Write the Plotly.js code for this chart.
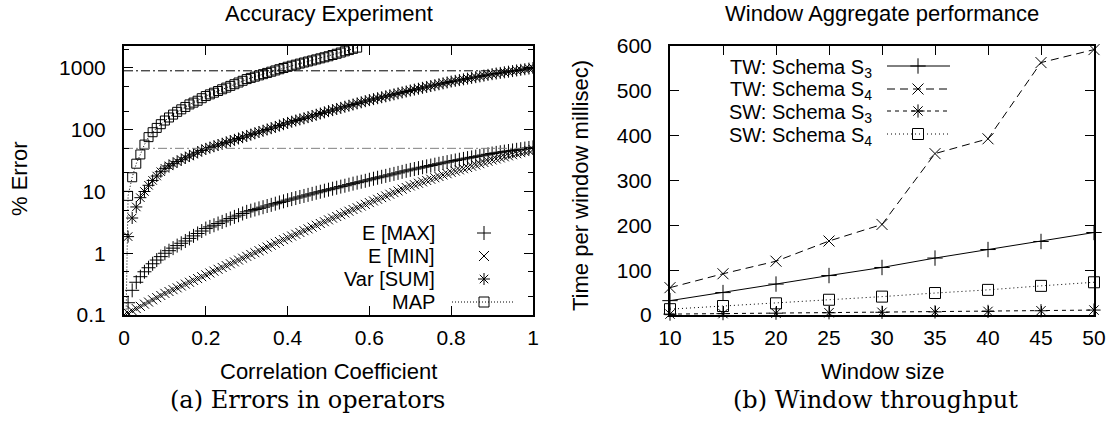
<!DOCTYPE html>
<html><head><meta charset="utf-8">
<script src="https://cdn.plot.ly/plotly-3.0.1.min.js"></script>
<style>html,body{margin:0;padding:0;background:#fff}#chart{width:1110px;height:423px}</style>
</head><body><div id="chart"></div>
<script>
// ---------- data ----------
const corr = [0,0.01,0.02,0.03,0.04,0.05,0.06,0.07,0.08,0.09,0.1,0.11,0.12,0.13,0.14,0.15,0.16,0.17,0.18,0.19,0.2,0.21,0.22,0.23,0.24,0.25,0.26,0.27,0.28,0.29,0.3,0.31,0.32,0.33,0.34,0.35,0.36,0.37,0.38,0.39,0.4,0.41,0.42,0.43,0.44,0.45,0.46,0.47,0.48,0.49,0.5,0.51,0.52,0.53,0.54,0.55,0.56,0.57,0.58,0.59,0.6,0.61,0.62,0.63,0.64,0.65,0.66,0.67,0.68,0.69,0.7,0.71,0.72,0.73,0.74,0.75,0.76,0.77,0.78,0.79,0.8,0.81,0.82,0.83,0.84,0.85,0.86,0.87,0.88,0.89,0.9,0.91,0.92,0.93,0.94,0.95,0.96,0.97,0.98,0.99,1];
const eMax = [0,0.158,0.251,0.339,0.417,0.501,0.582,0.676,0.776,0.881,1.00,1.10,1.21,1.33,1.45,1.58,1.74,1.91,2.09,2.29,2.51,2.67,2.84,3.03,3.22,3.43,3.65,3.88,4.13,4.40,4.68,4.89,5.11,5.33,5.57,5.82,6.08,6.35,6.64,6.93,7.24,7.53,7.83,8.15,8.47,8.81,9.16,9.53,9.91,10.3,10.7,11.1,11.5,12.0,12.4,12.9,13.4,13.9,14.4,14.9,15.5,16.1,16.7,17.3,17.9,18.6,19.3,20.0,20.8,21.6,22.4,23.1,23.9,24.7,25.5,26.3,27.2,28.1,29.0,29.9,30.9,31.8,32.7,33.7,34.7,35.7,36.7,37.8,38.9,40.0,41.2,42.2,43.2,44.2,45.2,46.2,47.3,48.4,49.5,50.7,51.9];
const eMin = [0.100,0.108,0.117,0.127,0.138,0.150,0.162,0.176,0.191,0.207,0.224,0.240,0.257,0.275,0.295,0.316,0.339,0.363,0.389,0.417,0.447,0.479,0.513,0.550,0.589,0.631,0.676,0.724,0.776,0.832,0.891,0.955,1.02,1.10,1.17,1.26,1.35,1.45,1.55,1.66,1.78,1.90,2.03,2.17,2.32,2.48,2.65,2.84,3.03,3.24,3.47,3.70,3.94,4.21,4.49,4.79,5.11,5.45,5.81,6.19,6.61,7.03,7.48,7.96,8.47,9.02,9.59,10.2,10.9,11.6,12.3,12.9,13.6,14.3,15.1,15.8,16.7,17.5,18.5,19.4,20.4,21.4,22.4,23.4,24.5,25.7,26.9,28.2,29.5,30.9,32.4,33.7,35.0,36.4,37.8,39.4,40.9,42.6,44.3,46.0,47.9];
const varSum = [0,1.86,3.72,5.62,7.94,10.0,12.6,15.1,17.8,20.9,23.7,26.0,28.2,30.5,32.7,35.1,37.6,40.3,43.2,46.2,49.0,51.4,54.0,56.6,59.4,62.4,65.5,68.7,72.1,75.7,79.4,83.4,87.5,91.8,96.4,101,106,111,117,123,129,135,141,147,153,160,167,175,183,191,200,208,217,226,236,245,256,267,278,290,302,313,324,336,348,361,374,388,402,416,432,446,461,477,493,510,527,545,564,583,603,619,637,655,673,692,711,731,752,773,794,813,832,851,871,891,912,933,955,977,1000];
const mapErr = [0,8.5,17.0,28.2,39.8,57.5,75.9,91.2,107,123,141,158,176,195,214,234,257,275,295,324,351,374,398,424,452,481,513,546,582,620,661,692,724,759,794,832,871,912,955,1000,1047,1089,1132,1178,1225,1274,1324,1377,1432,1489,1549,1622,1698,1778,1862,1950,2042,2138];
const refLevels = [900, 50];
const errTicks = [0.1, 1, 10, 100, 1000];
const errTickText = ['0.1', '1', '10', '100', '1000'];
const errMinor = [0.2, 0.5, 2, 5, 20, 50, 200, 500, 2000];
const corrTicks = [0, 0.2, 0.4, 0.6, 0.8, 1];
const corrTickText = ['0', '0.2', '0.4', '0.6', '0.8', '1'];

const winSize = [10, 15, 20, 25, 30, 35, 40, 45, 50];
const twS3 = [32, 50, 69, 88, 106, 127, 146, 164, 184];
const twS4 = [61, 92, 120, 165, 202, 360, 393, 563, 592];
const swS3 = [2, 3, 4, 5, 6, 7, 8, 9.5, 11];
const swS4 = [13, 20, 26, 34, 41, 49, 56, 65, 73];

const leftNames = ['E [MAX]', 'E [MIN]', 'Var [SUM]', 'MAP'];
const rightNames = ['TW: Schema S<sub>3</sub>', 'TW: Schema S<sub>4</sub>', 'SW: Schema S<sub>3</sub>', 'SW: Schema S<sub>4</sub>'];

// ---------- layout constants ----------
const W = 1110, H = 423;
const F = 'Liberation Sans, Arial, Helvetica, sans-serif';
const SERIF = 'DejaVu Serif, Liberation Serif, serif';
const FS = 21, FT = 22, FL = 20;
const LB = {x0: 124, x1: 533}, RB = {x0: 670, x1: 1094}, TOP = 46, BOT = 315;
const px = v => v / W, py = v => 1 - v / H;
const floorLog = v => (v > 0 ? v : 1e-3);
const nullZero = v => (v > 0 ? v : null);

const mk = (sym, size) => ({symbol: sym, size: size, color: '#000', line: {width: 1, color: '#000'}});
const symL = ['cross-thin-open', 'x-thin-open', 'asterisk-open', 'square-open'];
const symR = ['cross-thin-open', 'x-thin-open', 'asterisk-open', 'square-open'];
const dashR = ['solid', '8px,5px', '4px,4px', '1px,3px'];

const traces = [];
// left plot
traces.push({x: corr, y: eMax.map(nullZero), mode: 'markers', marker: mk(symL[0], 10), xaxis: 'x', yaxis: 'y', cliponaxis: true});
traces.push({x: corr, y: eMin.map(nullZero), mode: 'markers', marker: mk(symL[1], 9), xaxis: 'x', yaxis: 'y', cliponaxis: true});
traces.push({x: corr, y: varSum.map(nullZero), mode: 'markers', marker: mk(symL[2], 10), xaxis: 'x', yaxis: 'y', cliponaxis: true});
traces.push({x: corr.slice(0, mapErr.length), y: mapErr.map(floorLog), mode: 'lines+markers',
  line: {color: '#000', width: 1, dash: '1px,2px'}, marker: mk(symL[3], 9), xaxis: 'x', yaxis: 'y', cliponaxis: true});
const refColors = ['#000', '#808080'];
refLevels.forEach((lv, i) => traces.push({x: [corr[0], corr[corr.length - 1]], y: [lv, lv], mode: 'lines',
  line: {color: refColors[i], width: 1, dash: '9px,3px,2px,3px'}, xaxis: 'x', yaxis: 'y'}));
// right plot
[twS3, twS4, swS3, swS4].forEach((s, i) => traces.push({x: winSize, y: s, mode: 'lines+markers',
  line: {color: '#000', width: 1, dash: dashR[i]}, marker: mk(symR[i], 11), xaxis: 'x2', yaxis: 'y2', cliponaxis: false}));

// legend keys (overlay pixel axis)
const lRows = [233, 256, 279, 302], lKeyX = 484, lLine = [452, 514], lTextX = 436;
const rRows = [66, 89, 111, 134], rKeyX = 918, rLine = [887, 950], rTextX = 873;
traces.push({x: lLine, y: [lRows[3], lRows[3]], mode: 'lines', line: {color: '#000', width: 1, dash: '1px,2px'}, xaxis: 'x3', yaxis: 'y3'});
lRows.forEach((r, i) => traces.push({x: [lKeyX], y: [r], mode: 'markers', marker: mk(symL[i], 10), xaxis: 'x3', yaxis: 'y3'}));
rRows.forEach((r, i) => {
  traces.push({x: rLine, y: [r, r], mode: 'lines', line: {color: '#000', width: 1, dash: dashR[i]}, xaxis: 'x3', yaxis: 'y3'});
  traces.push({x: [rKeyX], y: [r], mode: 'markers', marker: mk(symR[i], 11), xaxis: 'x3', yaxis: 'y3'});
});
traces.forEach(t => t.showlegend = false);

const axBase = {showline: true, linecolor: '#000', linewidth: 2, mirror: 'allticks', ticks: 'inside', ticklen: 9,
  tickwidth: 1, tickcolor: '#000', showgrid: false, zeroline: false, tickfont: {family: F, size: FS, color: '#000'},
  fixedrange: true};
const yDom = [py(BOT), py(TOP)];

const ann = [];
const txt = (t, x, y, o) => ann.push(Object.assign({text: t, x: px(x), y: py(y), xref: 'paper', yref: 'paper',
  showarrow: false, xanchor: 'center', yanchor: 'middle', borderpad: 0, font: {family: F, size: FT, color: '#000'}}, o || {}));
txt('Accuracy Experiment', (LB.x0 + LB.x1) / 2, 13);
txt('Window Aggregate performance', (RB.x0 + RB.x1) / 2, 13);
txt('% Error', 19, 179, {textangle: -90});
txt('Time per window millisec)', 580, 186, {textangle: -90});
txt('Correlation Coefficient', (LB.x0 + LB.x1) / 2, 371);
txt('Window size', (RB.x0 + RB.x1) / 2, 371);
txt('(a) Errors in operators', 307, 400, {font: {family: SERIF, size: 24, color: '#000'}});
txt('(b) Window throughput', 875, 400, {font: {family: SERIF, size: 24, color: '#000'}});
leftNames.forEach((n, i) => txt(n, lTextX, lRows[i], {xanchor: 'right', font: {family: F, size: FL, color: '#000'}}));
rightNames.forEach((n, i) => txt(n, rTextX, rRows[i] + 2, {xanchor: 'right', font: {family: F, size: FL, color: '#000'}}));

const layout = {
  width: W, height: H, margin: {l: 0, r: 0, t: 0, b: 0}, paper_bgcolor: '#fff', plot_bgcolor: 'rgba(0,0,0,0)',
  showlegend: false,
  xaxis: Object.assign({}, axBase, {domain: [px(LB.x0), px(LB.x1)], range: [0, 1], tickvals: corrTicks, ticktext: corrTickText,
    anchor: 'y', ticklabelstandoff: 3}),
  yaxis: Object.assign({}, axBase, {domain: yDom, type: 'log', range: [-1, 3.356], tickvals: errTicks, ticktext: errTickText,
    anchor: 'x', ticklabelstandoff: 12,
    minor: {tickvals: errMinor, ticks: 'inside', ticklen: 5, tickwidth: 1, tickcolor: '#000', showgrid: false}}),
  xaxis2: Object.assign({}, axBase, {domain: [px(RB.x0), px(RB.x1)], range: [10, 50], dtick: 5, tick0: 10, anchor: 'y2', ticklabelstandoff: 3}),
  yaxis2: Object.assign({}, axBase, {domain: yDom, range: [0, 600], dtick: 100, anchor: 'x2', ticklabelstandoff: 12}),
  xaxis3: {domain: [0, 1], range: [0, W], visible: false, fixedrange: true, anchor: 'y3'},
  yaxis3: {domain: [0, 1], range: [H, 0], visible: false, fixedrange: true, anchor: 'x3'},
  annotations: ann
};
Plotly.newPlot('chart', traces, layout, {staticPlot: true, displayModeBar: false});
</script></body></html>
